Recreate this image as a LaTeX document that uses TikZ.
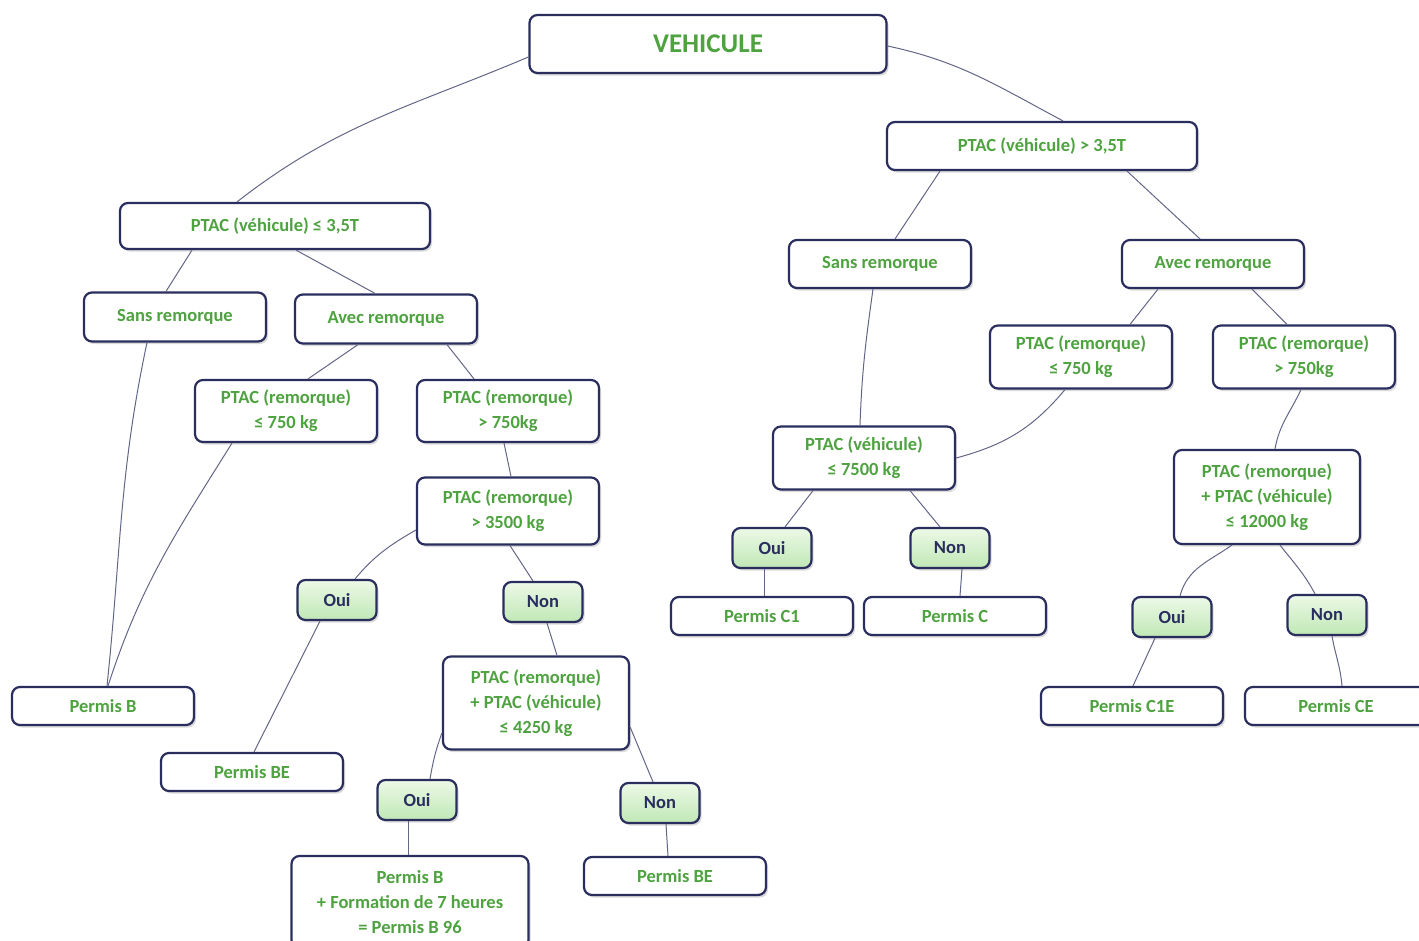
\documentclass[tikz,border=0pt]{standalone}
\usepackage{fontspec}
\setmainfont{Carlito}
\usetikzlibrary{shadows}

\definecolor{vert}{RGB}{78,162,64}
\definecolor{marine}{RGB}{42,46,94}
\definecolor{trait}{RGB}{100,102,136}
\definecolor{vertclair}{RGB}{236,249,230}
\definecolor{vertmoyen}{RGB}{192,232,182}

\begin{document}
\begin{tikzpicture}
  [
  x=1pt, y=1pt,
  font=\fontsize{18.5}{25}\selectfont\bfseries, line width=1.1pt,
  critere/.style={rectangle, rounded corners=8pt, draw=marine, line width=2.2pt,
    fill=white, text=vert, align=center, inner sep=0pt, minimum width=182pt,
    drop shadow={shadow xshift=2pt, shadow yshift=-2.5pt, opacity=0.3}},
  permis/.style={critere, minimum height=38pt},
  reponse/.style={critere, top color=vertclair, bottom color=vertmoyen, text=marine,
    minimum width=79pt, minimum height=40pt},
  lien/.style={draw=trait, line width=1pt}
  ]

\useasboundingbox (0,0) rectangle (1419,-940);

% racine et premier niveau
\node[critere, minimum width=357pt, minimum height=58pt,
  font=\fontsize{27}{30}\selectfont\bfseries] (veh) at (708,-44) {VEHICULE};
\node[critere, minimum width=310pt, minimum height=46pt] (pvA) at (275,-226) {PTAC (véhicule) ≤ 3,5T};
\node[critere, minimum width=310pt, minimum height=48pt] (pvB) at (1042,-146) {PTAC (véhicule) > 3,5T};

% branche gauche
\node[critere, minimum height=49pt] (sansA) at (175,-317) {Sans remorque};
\node[critere, minimum height=49pt] (avecA) at (386,-319) {Avec remorque};
\node[critere, minimum height=62pt] (rA1) at (286,-411) {PTAC (remorque)\\≤ 750 kg};
\node[critere, minimum height=62pt] (rA2) at (508,-411) {PTAC (remorque)\\> 750kg};
\node[critere, minimum height=67pt] (rA3) at (508,-511) {PTAC (remorque)\\> 3500 kg};
\node[critere, minimum width=186pt, minimum height=93pt] (sumA) at (536,-703)
  {PTAC (remorque)\\+ PTAC (véhicule)\\≤ 4250 kg};
\node[critere, minimum width=237pt, minimum height=92pt] (pB96) at (410,-902)
  {Permis B\\+ Formation de 7 heures\\= Permis B 96};

% branche droite
\node[critere, minimum height=48pt] (sansB) at (880,-264) {Sans remorque};
\node[critere, minimum height=48pt] (avecB) at (1213,-264) {Avec remorque};
\node[critere, minimum height=63pt] (rB1) at (1081,-357) {PTAC (remorque)\\≤ 750 kg};
\node[critere, minimum height=63pt] (rB2) at (1304,-357) {PTAC (remorque)\\> 750kg};
\node[critere, minimum height=63pt] (pv75) at (864,-458) {PTAC (véhicule)\\≤ 7500 kg};
\node[critere, minimum width=186pt, minimum height=94pt] (sumB) at (1267,-497)
  {PTAC (remorque)\\+ PTAC (véhicule)\\≤ 12000 kg};

% permis
\foreach \nom/\x/\y/\txt in {pB/103/706/Permis B, pBE/252/772/Permis BE,
  pBE2/675/876/Permis BE, pC1/762/616/Permis C1, pC/955/616/Permis C,
  pC1E/1132/706/Permis C1E, pCE/1336/706/Permis CE}
  \node[permis] (\nom) at (\x,-\y) {\txt};

% oui / non
\foreach \nom/\x/\y/\rep in {ouiA/337/600/Oui, nonA/543/602/Non, ouiB/417/800/Oui,
  nonB/660/803/Non, ouiC/772/548/Oui, nonC/950/548/Non, ouiD/1172/617/Oui,
  nonD/1327/615/Non}
  \node[reponse] (\nom) at (\x,-\y) {\rep};

% liens
\draw[lien] ([yshift=-13pt]veh.west) to[out=203, in=38] ([xshift=-38pt]pvA.north);
\draw[lien] ([yshift=-2pt]veh.east) to[out=-12, in=152] ([xshift=21pt]pvB.north);

\draw[lien] ([xshift=-83pt]pvA.south) -- ([xshift=-9pt]sansA.north);
\draw[lien] ([xshift=21pt]pvA.south) -- ([xshift=-11pt]avecA.north);
\draw[lien] ([xshift=-28pt]sansA.south) to[out=258, in=84] ([xshift=4pt]pB.north);
\draw[lien] ([xshift=-54pt]rA1.south) to[out=238, in=72] ([xshift=5pt]pB.north);
\draw[lien] ([xshift=-28pt]avecA.south) -- ([xshift=22pt]rA1.north);
\draw[lien] ([xshift=61pt]avecA.south) -- ([xshift=-34pt]rA2.north);
\draw[lien] ([xshift=-4pt]rA2.south) -- ([xshift=3pt]rA3.north);
\draw[lien] ([yshift=-19pt]rA3.west) to[out=210, in=50] ([xshift=18pt]ouiA.north);
\draw[lien] ([xshift=2pt]rA3.south) -- ([xshift=-10pt]nonA.north);
\draw[lien] ([xshift=-17pt]ouiA.south) -- ([xshift=2pt]pBE.north);
\draw[lien] ([xshift=4pt]nonA.south) -- ([xshift=21pt]sumA.north);
\draw[lien] ([yshift=-30pt]sumA.west) to[out=250, in=80] ([xshift=13pt]ouiB.north);
\draw[lien] ([xshift=-9pt]ouiB.south) -- ([xshift=-2pt]pB96.north);
\draw[lien] ([yshift=-24pt]sumA.east) -- ([xshift=-7pt]nonB.north);
\draw[lien] ([xshift=6pt]nonB.south) -- ([xshift=-7pt]pBE2.north);

\draw[lien] ([xshift=-102pt]pvB.south) -- ([xshift=15pt]sansB.north);
\draw[lien] ([xshift=85pt]pvB.south) -- ([xshift=-13pt]avecB.north);
\draw[lien] ([xshift=-7pt]sansB.south) to[out=262, in=88] ([xshift=-4pt]pv75.north);
\draw[lien] ([xshift=-55pt]avecB.south) -- ([xshift=49pt]rB1.north);
\draw[lien] ([xshift=39pt]avecB.south) -- ([xshift=-17pt]rB2.north);
\draw[lien] ([xshift=-16pt]rB1.south) to[out=230, in=15] (pv75.east);
\draw[lien] ([xshift=-3pt]rB2.south) to[out=245, in=80] ([xshift=8pt]sumB.north);
\draw[lien] ([xshift=-51pt]pv75.south) -- ([xshift=13pt]ouiC.north);
\draw[lien] ([xshift=46pt]pv75.south) -- ([xshift=-10pt]nonC.north);
\draw[lien] ([xshift=-8pt]ouiC.south) -- ([xshift=2pt]pC1.north);
\draw[lien] ([xshift=12pt]nonC.south) -- ([xshift=5pt]pC.north);
\draw[lien] ([xshift=-35pt]sumB.south) to[out=215, in=75] ([xshift=8pt]ouiD.north);
\draw[lien] ([xshift=13pt]sumB.south) to[out=-52, in=118] ([xshift=-12pt]nonD.north);
\draw[lien] ([xshift=-17pt]ouiD.south) -- ([xshift=1pt]pC1E.north);
\draw[lien] ([xshift=5pt]nonD.south) to[out=-80, in=95] ([xshift=6pt]pCE.north);

\end{tikzpicture}
\end{document}
